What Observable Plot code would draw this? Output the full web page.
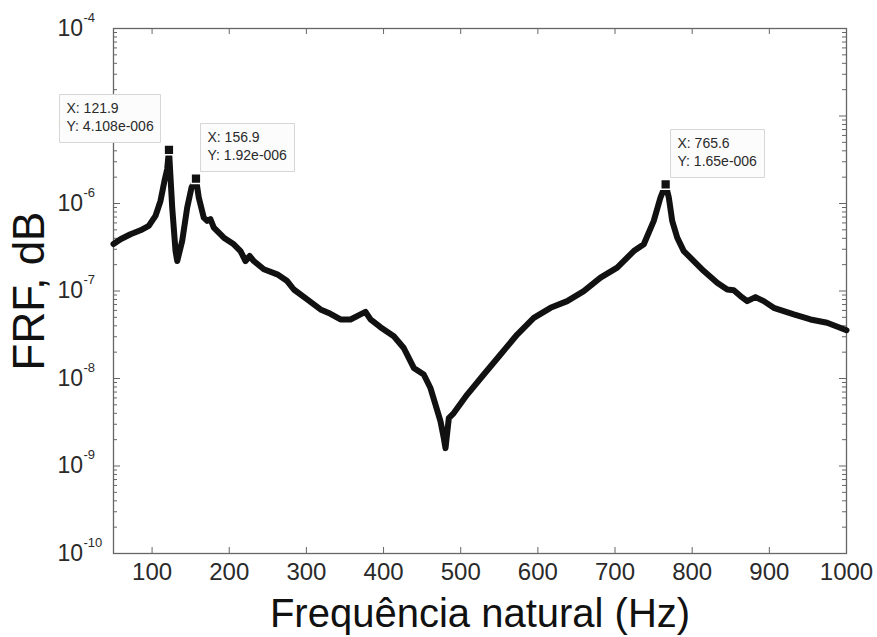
<!DOCTYPE html>
<html><head><meta charset="utf-8">
<script src="https://cdn.jsdelivr.net/npm/d3@7"></script>
<script src="https://cdn.jsdelivr.net/npm/@observablehq/plot@0.6"></script>
<style>body{margin:0;background:#fff;}</style>
</head><body><div id="chart"></div>
<script>
// Frequency (Hz)
const freq = [50, 59.1, 72.0, 85.0, 95.7, 104.4, 110.9, 116.1, 119.6, 121.9, 126.1, 130.4, 132.6, 139.0, 145.5, 151.1, 156.9,
  160.5, 167.0, 171.4, 175.7, 180.0, 193.0, 205.9, 214.6, 221.1, 226.6, 231.8, 244.8, 262.2, 275.1, 283.7, 301.0, 318.3,
  331.2, 344.2, 357.2, 370.1, 376.6, 383.1, 396.0, 413.3, 426.2, 439.2, 452.1, 460.8, 467.3, 473.8, 478.1, 480.3, 484.6,
  491.0, 508.4, 529.9, 551.6, 573.2, 594.7, 616.4, 638.0, 659.5, 681.2, 702.8, 724.3, 737.3, 750.2, 758.9, 765.6, 769.7,
  774.1, 780.6, 789.1, 802.1, 815.1, 832.4, 845.4, 853.9, 862.6, 871.3, 882.0, 892.8, 905.7, 918.7, 931.7, 953.3, 974.9, 1000];
// FRF magnitude
const frf = [3.44e-7, 3.90e-7, 4.45e-7, 4.94e-7, 5.54e-7, 7.21e-7, 1.07e-6, 1.82e-6, 2.47e-6, 4.108e-6, 8.97e-7, 2.86e-7, 2.20e-7, 3.73e-7, 8.97e-7, 1.52e-6, 1.92e-6,
  1.17e-6, 6.89e-7, 6.32e-7, 6.61e-7, 5.30e-7, 4.07e-7, 3.42e-7, 2.86e-7, 2.20e-7, 2.51e-7, 2.20e-7, 1.77e-7, 1.55e-7, 1.30e-7, 1.04e-7, 8.01e-8, 6.15e-8,
  5.48e-8, 4.73e-8, 4.73e-8, 5.40e-8, 5.78e-8, 4.73e-8, 3.86e-8, 3.04e-8, 2.23e-8, 1.32e-8, 1.11e-8, 7.78e-9, 5.02e-9, 3.24e-9, 2.08e-9, 1.60e-9, 3.53e-9,
  4.03e-9, 6.55e-9, 1.11e-8, 1.88e-8, 3.18e-8, 4.93e-8, 6.42e-8, 7.66e-8, 9.97e-8, 1.42e-7, 1.85e-7, 2.86e-7, 3.42e-7, 6.32e-7, 1.17e-6, 1.65e-6, 1.17e-6,
  6.32e-7, 4.07e-7, 2.86e-7, 2.20e-7, 1.69e-7, 1.24e-7, 1.04e-7, 1.02e-7, 8.75e-8, 7.66e-8, 8.51e-8, 7.66e-8, 6.42e-8, 5.89e-8, 5.40e-8, 4.73e-8, 4.33e-8, 3.56e-8];

// Data cursors
const peakX = [121.9, 156.9, 765.6];
const peakY = [4.108e-6, 1.92e-6, 1.65e-6];
const peakText = ["X: 121.9\nY: 4.108e-006", "X: 156.9\nY: 1.92e-006", "X: 765.6\nY: 1.65e-006"];

// Ticks and labels
const xTicks = [100, 200, 300, 400, 500, 600, 700, 800, 900, 1000];
const yTicks = [1e-10, 1e-9, 1e-8, 1e-7, 1e-6, 1e-5, 1e-4];
const yTickBase = ["10", "10", "10", "10", "10", "10", "10"];
const yTickExp = ["-10", "-9", "-8", "-7", "-6", "-5", "-4"];
const xLabel = "Frequência natural (Hz)";
const yLabel = "FRF, dB";

const W = 877, H = 637, mL = 113, mR = 31, mT = 28, mB = 84;
const innerW = W - mL - mR, innerH = H - mT - mB;
const yMinor = [];
for (let e = -10; e < -4; e++) for (let m = 2; m <= 9; m++) yMinor.push(m * Math.pow(10, e));

const data = freq.map((x, i) => ({x, y: frf[i]}));
const peaks = peakX.map((x, i) => ({x, y: peakY[i], t: peakText[i]}));
const axisColor = "#666";
const tipStyle = {fill: "#fcfcfc", stroke: "#d6d6d6", pathFilter: "none", textPadding: 7, fontSize: 14, lineHeight: 1.3};

const chart = Plot.plot({
  width: W, height: H,
  marginLeft: mL, marginRight: mR, marginTop: mT, marginBottom: mB,
  style: {fontFamily: "'Liberation Sans', Arial, sans-serif", color: "#2a2a2a", background: "#fff"},
  x: {domain: [50, 1000]},
  y: {type: "log", domain: [1e-10, 1e-4], axis: null},
  marks: [
    Plot.ruleX(xTicks, {x: d => d, insetTop: innerH - 6, stroke: axisColor}),
    Plot.ruleX(xTicks, {x: d => d, insetBottom: innerH - 6, stroke: axisColor}),
    Plot.ruleY(yTicks, {y: d => d, insetRight: innerW - 7, stroke: axisColor}),
    Plot.ruleY(yTicks, {y: d => d, insetLeft: innerW - 7, stroke: axisColor}),
    Plot.ruleY(yMinor, {y: d => d, insetRight: innerW - 4, stroke: axisColor}),
    Plot.ruleY(yMinor, {y: d => d, insetLeft: innerW - 4, stroke: axisColor}),
    Plot.frame({stroke: axisColor, strokeWidth: 1.3}),
    Plot.axisX({ticks: xTicks, tickSize: 0, tickPadding: 9, fontSize: 24, label: null, tickFormat: d => String(d)}),
    Plot.text(yTicks, {y: d => d, text: yTickBase, frameAnchor: "left", textAnchor: "start", dx: -56, fontSize: 23}),
    Plot.text(yTicks, {y: d => d, text: yTickExp, frameAnchor: "left", textAnchor: "start", dx: -30, dy: -11, fontSize: 13}),
    Plot.line(data, {x: "x", y: "y", stroke: "#111", strokeWidth: 6, strokeLinejoin: "round", strokeLinecap: "round"}),
    Plot.dot(peaks, {x: "x", y: "y", symbol: "square", r: 5.5, fill: "#111", stroke: "#fff", strokeWidth: 1.5}),
    Plot.tip(peaks.slice(0, 1), {x: "x", y: "y", title: "t", anchor: "bottom-right", pointerSize: 0, dx: -8, dy: -7, ...tipStyle}),
    Plot.tip(peaks.slice(1), {x: "x", y: "y", title: "t", anchor: "bottom-left", pointerSize: 0, dx: 5, dy: -7, ...tipStyle}),
    Plot.text([xLabel], {frameAnchor: "bottom", dy: 73, fontSize: 40, fill: "#111"}),
    Plot.text([yLabel], {frameAnchor: "left", textAnchor: "middle", dx: -84, rotate: -90, fontSize: 44, fill: "#111"})
  ]
});
document.getElementById("chart").appendChild(chart);
</script>
</body></html>
